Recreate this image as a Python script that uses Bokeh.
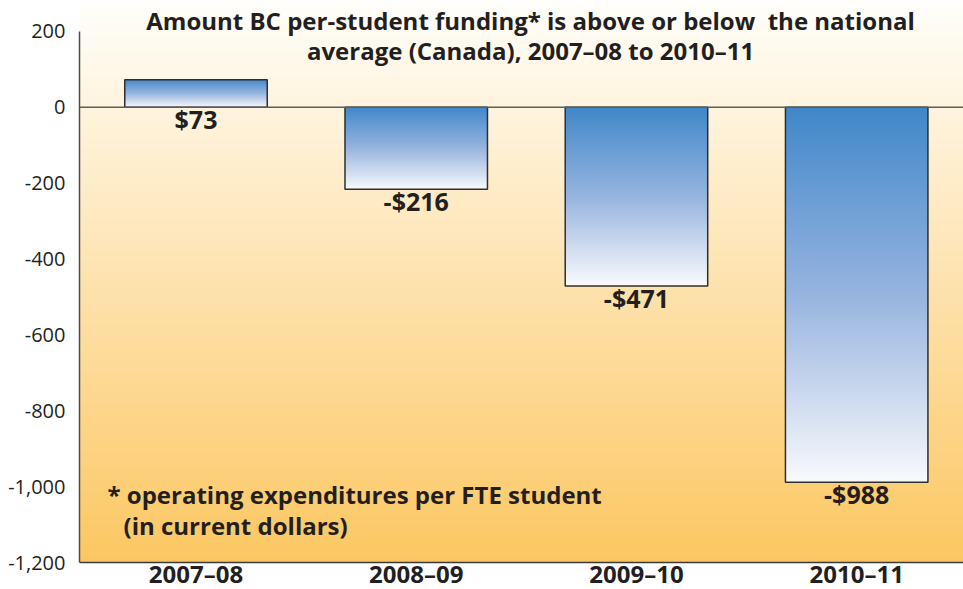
import numpy as np
from bokeh.plotting import figure
from bokeh.models import Range1d, FixedTicker, NumeralTickFormatter, Span, Label, ColumnDataSource
from bokeh.core.properties import value
from bokeh.embed import file_html
from bokeh.resources import INLINE

# ---- data ----
categories = ["2007–08", "2008–09", "2009–10", "2010–11"]
values = [73, -216, -471, -988]
y_ticks = [200, 0, -200, -400, -600, -800, -1000, -1200]
title_lines = ["Amount BC per-student funding* is above or below\u00a0 the national",
               "average (Canada), 2007–08 to 2010–11"]
note_lines = ["* operating expenditures per FTE student", "(in current dollars)"]

FONT = "Open Sans"
TXT = "#231F20"

y_min, y_max = -1200, 200          # axis extent
x0, x1 = -0.529, 3.485             # view range (categories at 0..3)
y0, y1 = -1271, 281.7              # view range incl. room for title and labels

p = figure(width=963, height=589, output_backend="svg", toolbar_location=None,
           x_range=Range1d(x0, x1), y_range=Range1d(y0, y1),
           x_axis_location=None,
           min_border_left=79, min_border_right=0, min_border_top=0, min_border_bottom=0)
p.outline_line_color = None
p.xgrid.visible = False
p.ygrid.visible = False
p.background_fill_color = "white"
p.border_fill_color = "white"

def gradient(stops_t, stops_rgb, n=300, w=2):
    t = np.linspace(0, 1, n)
    img = np.empty((n, w), dtype=np.uint32)
    v = img.view(dtype=np.uint8).reshape((n, w, 4))
    rgb = np.array(stops_rgb, dtype=float)
    for c in range(3):
        col = np.interp(t, stops_t, rgb[:, c])
        v[:, :, c] = np.round(col)[:, None].astype(np.uint8)
    v[:, :, 3] = 255
    return img

# background gradient (row 0 = bottom)
bg = gradient([0, 1], [(252, 199, 98), (255, 254, 251)])
p.image_rgba(image=[bg], x=x0, y=y_min, dw=x1 - x0, dh=y1 - y_min)

# bars
bw = 0.647
bar_grad = gradient([0, 0.25, 0.5, 0.75, 1.0],
                    [(248, 250, 253), (200, 214, 237), (150, 180, 223), (108, 158, 213), (64, 135, 200)])
xs = list(range(len(categories)))
src = ColumnDataSource(dict(
    x=[i - bw / 2 for i in xs],
    left=[i - bw / 2 for i in xs],
    right=[i + bw / 2 for i in xs],
    top=[max(v, 0) for v in values],
    bottom=[min(v, 0) for v in values],
    dh=[abs(v) for v in values],
    img=[bar_grad] * len(values),
    cx=xs,
    lab=[("$%d" % v) if v >= 0 else ("-$%d" % -v) for v in values],
))
p.image_rgba(image="img", x="x", y="bottom", dw=bw, dh="dh", source=src)
p.quad(left="left", right="right", top="top", bottom="bottom", source=src,
       fill_color=None, line_color="#2e2e2e", line_width=1.5)

# zero line and bottom axis line
p.add_layout(Span(location=0, dimension="width", line_color="#5c5c5c", line_width=1.5))
p.add_layout(Span(location=y_min, dimension="width", line_color="#3a3a3a", line_width=1.5))

# value labels
p.text(x="cx", y="bottom", text="lab", source=src, text_align="center", text_baseline="middle",
       y_offset=12, text_font=value(FONT), text_font_style="bold", text_font_size="25px",
       text_color=TXT)

# category labels (bottom axis)
cat_src = ColumnDataSource(dict(x=xs, y=[y_min] * len(xs), t=categories))
p.text(x="x", y="y", text="t", source=cat_src, text_align="center", text_baseline="middle",
       y_offset=11, text_font=value(FONT), text_font_style="bold", text_font_size="24px",
       text_color=TXT)

# title
p.add_layout(Label(x=1.519, y=229, text=title_lines[0], text_align="center", text_baseline="middle",
                   text_font=FONT, text_font_style="bold", text_font_size="24px", text_color=TXT))
p.add_layout(Label(x=1.519, y=150, text=title_lines[1], text_align="center", text_baseline="middle",
                   text_font=FONT, text_font_style="bold", text_font_size="24px", text_color=TXT))
# footnote
p.add_layout(Label(x=-0.402, y=-1021, text=note_lines[0], text_align="left", text_baseline="middle",
                   text_font=FONT, text_font_style="bold", text_font_size="24px", text_color=TXT))
p.add_layout(Label(x=-0.329, y=-1102, text=note_lines[1], text_align="left", text_baseline="middle",
                   text_font=FONT, text_font_style="bold", text_font_size="24px", text_color=TXT))

# y axis
ya = p.yaxis[0]
ya.ticker = FixedTicker(ticks=y_ticks)
ya.formatter = NumeralTickFormatter(format="0,0")
ya.bounds = (y_min, y_max)
ya.major_tick_line_color = None
ya.minor_tick_line_color = None
ya.major_tick_out = 0
ya.major_label_standoff = 14
ya.axis_line_color = "#4a4a4a"
ya.axis_line_width = 1.5
ya.major_label_text_font = FONT
ya.major_label_text_font_size = "20px"
ya.major_label_text_color = TXT

open("out.html", "w").write(file_html(p, INLINE))
